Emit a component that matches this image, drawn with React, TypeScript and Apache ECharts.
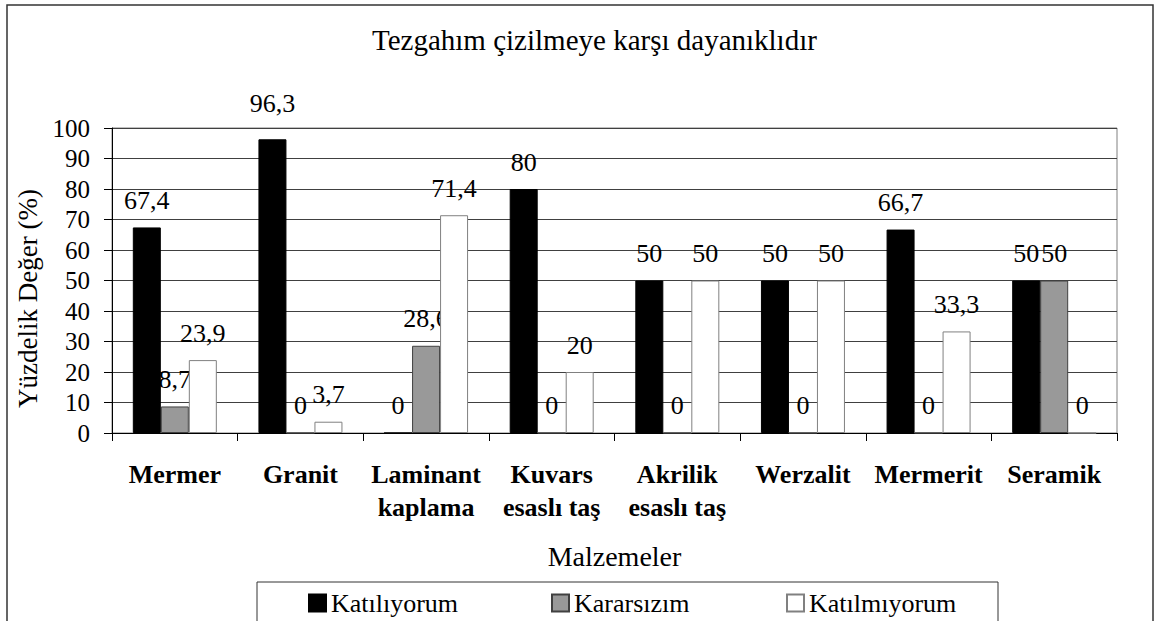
import React, { useEffect, useRef } from "react";
import * as echarts from "echarts";

const categories = [
  "Mermer",
  "Granit",
  "Laminant\nkaplama",
  "Kuvars\nesaslı taş",
  "Akrilik\nesaslı taş",
  "Werzalit",
  "Mermerit",
  "Seramik",
];
const seriesNames = ["Katılıyorum", "Kararsızım", "Katılmıyorum"];
const agree = [67.4, 96.3, 0, 80, 50, 50, 66.7, 50];
const undecided = [8.7, 0, 28.6, 0, 0, 0, 0, 50];
const disagree = [23.9, 3.7, 71.4, 20, 50, 50, 33.3, 0];
const yTicks = { min: 0, max: 100, interval: 10 };

const FONT = "Liberation Serif";

export default function App() {
  const ref = useRef<HTMLDivElement>(null);
  useEffect(() => {
    if (!ref.current) return;
    const chart = echarts.init(ref.current, undefined, { renderer: "svg" });
    const fmt = (p: any) => String(p.value).replace(".", ",");
    const label = {
      show: true,
      position: "top",
      distance: 14,
      fontFamily: FONT,
      fontSize: 26,
      color: "#000",
      formatter: fmt,
    };
    const legendCommon = {
      top: 590,
      icon: "rect",
      itemWidth: 17,
      itemHeight: 17,
      textStyle: { fontFamily: FONT, fontSize: 26, color: "#000" },
      padding: 0,
      selectedMode: false,
    };
    chart.setOption({
      animation: false,
      backgroundColor: "#fff",
      textStyle: { fontFamily: FONT },
      title: {
        text: "Tezgahım çizilmeye karşı dayanıklıdır",
        left: 372,
        top: 25,
        padding: 0,
        textStyle: { fontFamily: FONT, fontSize: 29, fontWeight: "normal", color: "#000" },
      },
      legend: [
        { ...legendCommon, left: 308, data: [seriesNames[0]] },
        { ...legendCommon, left: 551, data: [seriesNames[1]] },
        { ...legendCommon, left: 786, data: [seriesNames[2]] },
      ],
      grid: {
        left: 112,
        right: 42,
        top: 128,
        bottom: 188,
        show: true,
        borderColor: "#808080",
        borderWidth: 1,
      },
      xAxis: {
        type: "category",
        data: categories,
        name: "Malzemeler",
        nameLocation: "middle",
        nameGap: 109,
        nameTextStyle: { fontFamily: FONT, fontSize: 28, color: "#000" },
        axisLine: { lineStyle: { color: "#000", width: 1 } },
        axisTick: { show: true, length: 8, lineStyle: { color: "#000" } },
        axisLabel: {
          interval: 0,
          margin: 25,
          fontFamily: FONT,
          fontSize: 26,
          fontWeight: "bold",
          color: "#000",
          lineHeight: 33,
        },
      },
      yAxis: {
        type: "value",
        min: yTicks.min,
        max: yTicks.max,
        interval: yTicks.interval,
        name: "Yüzdelik Değer (%)",
        nameLocation: "middle",
        nameGap: 63,
        nameTextStyle: { fontFamily: FONT, fontSize: 27, color: "#000", padding: [0, 36, 0, 0] },
        axisLine: { show: true, lineStyle: { color: "#000", width: 1 } },
        axisTick: { show: true, length: 8, lineStyle: { color: "#000" } },
        axisLabel: { margin: 22, fontFamily: FONT, fontSize: 25, color: "#000" },
        splitLine: { show: true, lineStyle: { color: "#404040", width: 1 } },
      },
      graphic: [
        {
          type: "rect",
          shape: { x: 7, y: 5, width: 1146, height: 700 },
          style: { fill: "none", stroke: "#333", lineWidth: 1.5 },
          silent: true,
        },
        {
          type: "rect",
          shape: { x: 257, y: 582, width: 741, height: 100 },
          style: { fill: "none", stroke: "#333", lineWidth: 1 },
          silent: true,
        },
      ],
      series: [
        {
          name: seriesNames[0],
          type: "bar",
          z: 3,
          barWidth: 28,
          barGap: "0%",
          data: agree.map((v) => (v > 90 ? { value: v, label: { distance: 23 } } : v)),
          itemStyle: { color: "#000", borderColor: "#000", borderWidth: 1 },
          label,
        },
        {
          name: seriesNames[1],
          type: "bar",
          z: 1,
          barWidth: 28,
          barGap: "0%",
          data: undecided,
          itemStyle: { color: "#999999", borderColor: "#404040", borderWidth: 1 },
          label,
        },
        {
          name: seriesNames[2],
          type: "bar",
          z: 3,
          barWidth: 28,
          barGap: "0%",
          data: disagree,
          itemStyle: { color: "#fff", borderColor: "#808080", borderWidth: 1 },
          label,
        },
      ],
    });
    return () => chart.dispose();
  }, []);
  return (
    <div
      ref={ref}
      style={{ position: "fixed", left: 0, top: 0, width: 1159, height: 621 }}
    />
  );
}
